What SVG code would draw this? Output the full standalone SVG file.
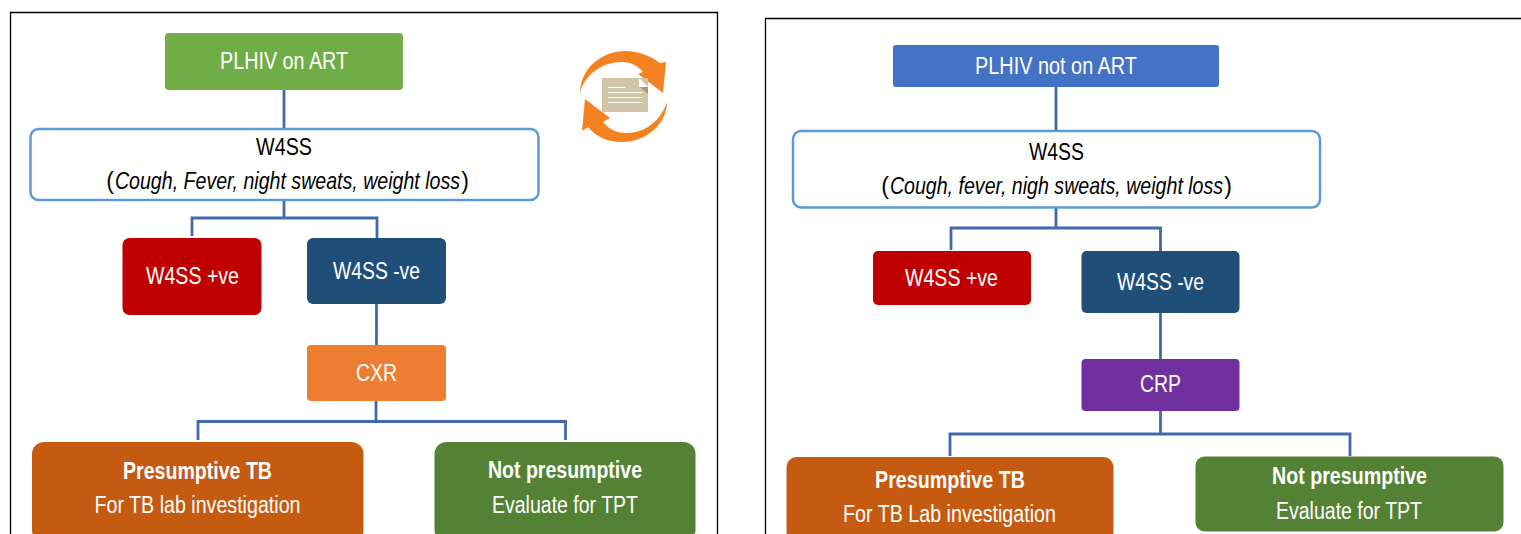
<svg xmlns="http://www.w3.org/2000/svg" width="1521" height="534" viewBox="0 0 1521 534">
<style>
text{font-family:"Liberation Sans",Arial,sans-serif;text-anchor:middle;fill:#fff;font-size:23px}
.k{fill:#000}
.i{font-style:italic}
.b{font-weight:bold}
.c{fill:none;stroke:#4169b0;stroke-width:2.8}
.w{fill:#fff;stroke:#5b9bd5;stroke-width:2.5}
.frame{fill:#fff;stroke:#000;stroke-width:1.3}
</style>
<rect width="1521" height="534" fill="#fff"/>
<path class="frame" d="M10.500 534V12.500H717.500V534"/>
<path class="frame" d="M765.500 534V18.500H1521"/>
<g id="connectors">
<path class="c" d="M284 90V129M284 200V218M192 236V218H377V238M376.500 304V345M376 401V421.500M198 440V421.500H565.500V440"/>
<path class="c" d="M1056 87V131M1056 208V228M951 250V228H1160.500V251M1160.500 313V359M1160.500 411V434M950 456V434H1350V456"/>
</g>
<g id="left-start"><rect x="165" y="33" width="238" height="57" rx="4" fill="#70ad47"/><text x="284" y="69" textLength="128" lengthAdjust="spacingAndGlyphs">PLHIV on ART</text></g>
<g id="left-w4ss"><rect class="w" x="30.500" y="129" width="508" height="71" rx="8"/><text class="k" x="284" y="155" textLength="56" lengthAdjust="spacingAndGlyphs">W4SS</text>
<text class="k" x="110" y="189">(</text><text class="k i" transform="translate(287.5 189) scale(.852 1)">Cough, Fever, night sweats, weight loss</text><text class="k" x="465" y="189">)</text></g>
<g id="left-pos"><rect x="122.500" y="238" width="139" height="77" rx="7" fill="#c00000"/><text x="192.500" y="284" textLength="93" lengthAdjust="spacingAndGlyphs">W4SS +ve</text></g>
<g id="left-neg"><rect x="307" y="238" width="139" height="66" rx="6" fill="#1f4e79"/><text x="376.500" y="279" textLength="87" lengthAdjust="spacingAndGlyphs">W4SS -ve</text></g>
<g id="left-cxr"><rect x="307" y="345" width="139" height="56" rx="4" fill="#ed7d31"/><text x="376.500" y="381" textLength="41" lengthAdjust="spacingAndGlyphs">CXR</text></g>
<g id="left-presumptive"><rect x="32" y="442" width="331.500" height="100" rx="12" fill="#c55a11"/><text class="b" x="197.500" y="479" textLength="149" lengthAdjust="spacingAndGlyphs">Presumptive TB</text><text x="197.500" y="513" textLength="206" lengthAdjust="spacingAndGlyphs">For TB lab investigation</text></g>
<g id="left-not"><rect x="434.500" y="442" width="261" height="100" rx="12" fill="#548235"/><text class="b" x="565" y="478" textLength="154" lengthAdjust="spacingAndGlyphs">Not presumptive</text><text x="565" y="513" textLength="146" lengthAdjust="spacingAndGlyphs">Evaluate for TPT</text></g>
<g id="cycle-icon">
<path fill="#f58220" d="M580 92C581 68 602 51 625 51C639 51 651 56 660 63L666 62L663 93L638 74L643 72C637 65 630 62 622 62C602 62 586 74 580 92Z"/>
<path fill="#f58220" d="M667 102C667 124 646 142 622 142C608 142 596 137 588 127L582 131L585 99L610 118L603 122C609 129 616 133 626 133C646 133 661 120 667 102Z"/>
<rect x="602" y="78" width="46" height="34" fill="#d1c5a5"/>
<path d="M639 78L648 87H639Z" fill="#fff"/><path d="M640 87H648V94Z" fill="#a89a6f"/>
<path d="M608 87.500H625M608 92.500H642M608 97.500H642M608 102.500H642" stroke="#fff" stroke-width="1.200" fill="none"/>
</g>
<g id="right-start"><rect x="893" y="45" width="326" height="42" rx="3" fill="#4472c4"/><text x="1056" y="74" textLength="162" lengthAdjust="spacingAndGlyphs">PLHIV not on ART</text></g>
<g id="right-w4ss"><rect class="w" x="793" y="131" width="527" height="76.500" rx="8"/><text class="k" x="1056.500" y="160" textLength="55" lengthAdjust="spacingAndGlyphs">W4SS</text>
<text class="k" x="885" y="194">(</text><text class="k i" transform="translate(1056.5 194) scale(.852 1)">Cough, fever, nigh sweats, weight loss</text><text class="k" x="1228" y="194">)</text></g>
<g id="right-pos"><rect x="873" y="251" width="158" height="54" rx="5" fill="#c00000"/><text x="951.500" y="286" textLength="93" lengthAdjust="spacingAndGlyphs">W4SS +ve</text></g>
<g id="right-neg"><rect x="1081.500" y="251" width="158" height="62" rx="5" fill="#1f4e79"/><text x="1160.500" y="290" textLength="87" lengthAdjust="spacingAndGlyphs">W4SS -ve</text></g>
<g id="right-crp"><rect x="1081.500" y="359" width="158" height="52" rx="4" fill="#7030a0"/><text x="1160.500" y="392" textLength="41" lengthAdjust="spacingAndGlyphs">CRP</text></g>
<g id="right-presumptive"><rect x="786.500" y="457" width="327" height="85" rx="10" fill="#c55a11"/><text class="b" x="950" y="488" textLength="150" lengthAdjust="spacingAndGlyphs">Presumptive TB</text><text x="949.500" y="522" textLength="213" lengthAdjust="spacingAndGlyphs">For TB Lab investigation</text></g>
<g id="right-not"><rect x="1195.500" y="456.500" width="308" height="75" rx="9" fill="#548235"/><text class="b" x="1349.500" y="484" textLength="155" lengthAdjust="spacingAndGlyphs">Not presumptive</text><text x="1349" y="519" textLength="146" lengthAdjust="spacingAndGlyphs">Evaluate for TPT</text></g>
</svg>
